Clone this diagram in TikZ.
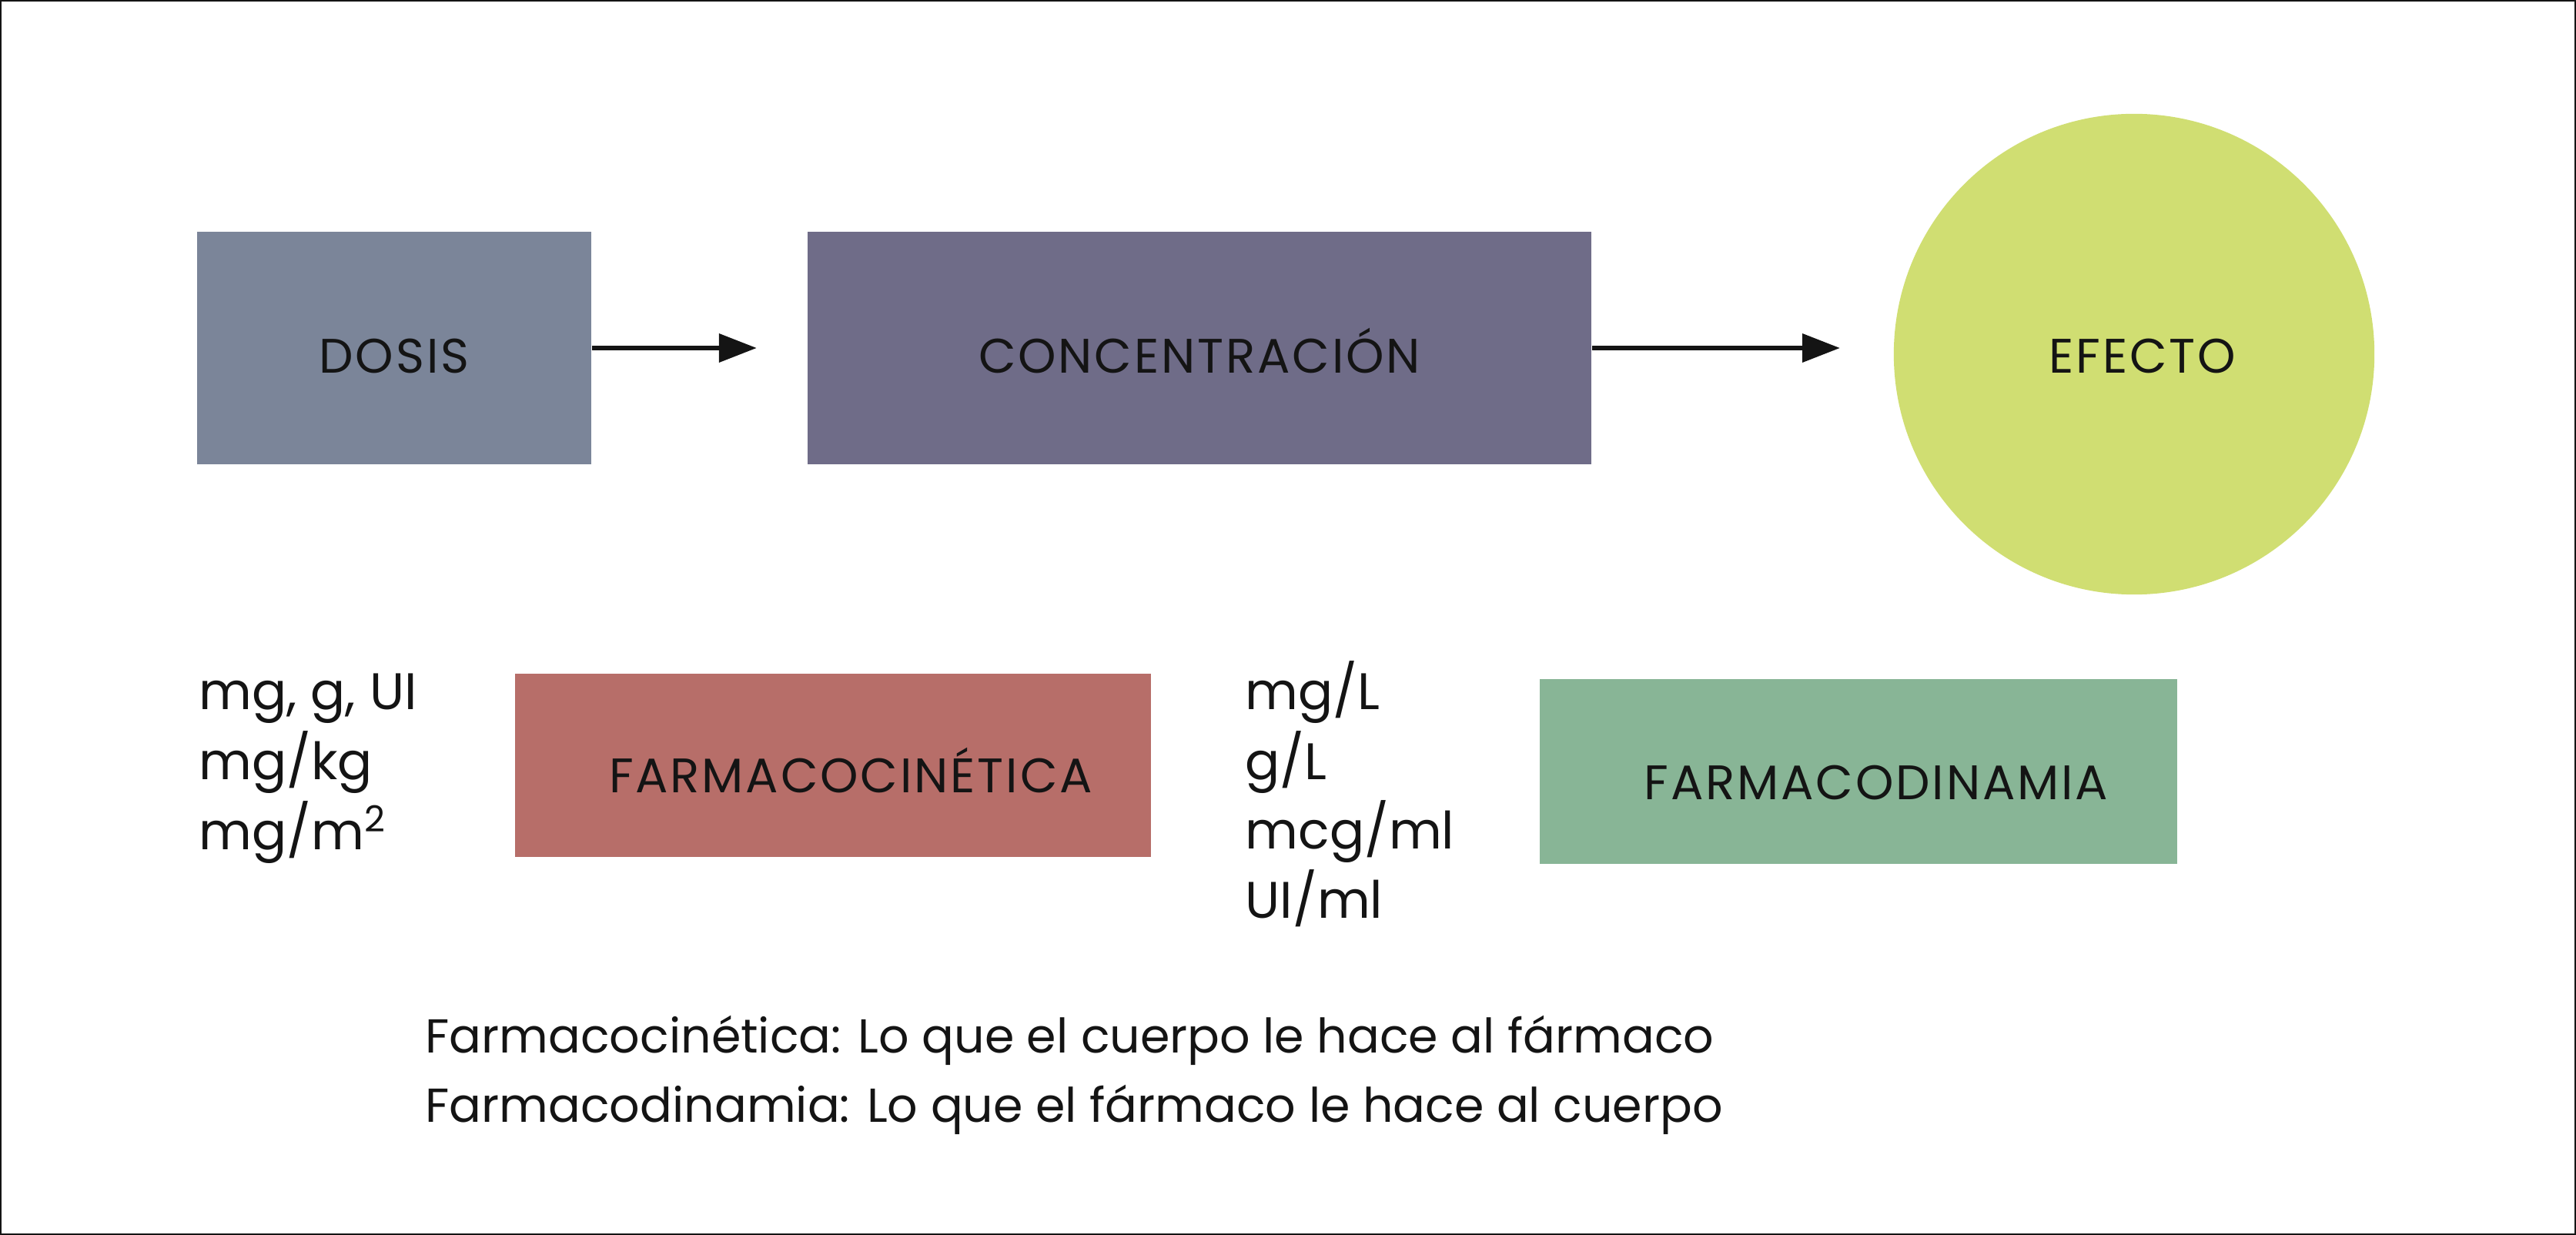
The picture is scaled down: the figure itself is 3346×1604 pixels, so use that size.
\documentclass[tikz,border=0pt]{standalone}
\usepackage{fontspec}
\setmainfont{Poppins}
\usetikzlibrary{arrows.meta}
\definecolor{cdosis}{HTML}{7B8599}
\definecolor{cconc}{HTML}{6F6C88}
\definecolor{cefecto}{HTML}{D0DE72}
\definecolor{ckin}{HTML}{B76E69}
\definecolor{cdin}{HTML}{88B596}
\definecolor{ink}{HTML}{141414}
\begin{document}
\begin{tikzpicture}[x=0.01cm,y=-0.01cm,
  box/.style={rectangle, draw=none, inner sep=0pt, text=ink,
    font=\fontsize{17.9pt}{20pt}\selectfont\addfontfeatures{LetterSpace=4.5},
    text height=0.64cm, text depth=0pt},
  unit/.style={anchor=base west, inner sep=0pt, text=ink,
    font=\fontsize{19pt}{22pt}\selectfont},
  note/.style={anchor=base west, inner sep=0pt, text=ink,
    font=\fontsize{17.6pt}{22pt}\selectfont},
  arr/.style={draw=ink, line width=0.067cm,
    -{Triangle[length=0.49cm,width=0.36cm]}}]
\useasboundingbox (0,0) rectangle (3346,1604);
\draw[line width=0.02cm, draw=ink] (1,1) rectangle (3345,1603);
% top row
\node[box, fill=cdosis, minimum width=5.12cm, minimum height=3.02cm] (dosis) at (512,452) {DOSIS};
\node[box, fill=cconc, minimum width=10.18cm, minimum height=3.02cm] (conc) at (1558,452) {CONCENTRACIÓN};
\node[box, circle, fill=cefecto, minimum size=6.24cm, text height=0.48cm] (efecto) at (2772,460) {\hspace*{0.22cm}EFECTO};
\draw[arr, shorten >=0.65cm] (dosis.east) -- (conc.west);
\draw[arr, shorten >=0.69cm] (conc.east) -- (conc.east -| efecto.west);
% bottom row
\node[box, fill=ckin, minimum width=8.26cm, minimum height=2.38cm, text height=0.70cm] (kin) at (1082,994) {\hspace*{0.46cm}FARMACOCINÉTICA};
\node[box, fill=cdin, minimum width=8.27cm, minimum height=2.39cm, text height=0.72cm] (din) at (2414,1002) {\hspace*{0.46cm}FARMACODINAMIA};
% units
\node[unit] (u1) at (258,922) {mg, g, UI};
\node[unit] (u2) at (258,1012) {mg/kg};
\node[unit] (u3) at (258,1103) {mg/m\textsuperscript{2}};
\node[unit] (v1) at (1617,922) {mg/L};
\node[unit] (v2) at (1617,1012) {g/L};
\node[unit] (v3) at (1617,1102) {mcg/ml};
\node[unit] (v4) at (1617,1192) {UI/ml};
% notes
\node[note] (n1) at (552,1367) {Farmacocinética: Lo que el cuerpo le hace al fármaco};
\node[note] (n2) at (552,1457) {Farmacodinamia: Lo que el fármaco le hace al cuerpo};
\end{tikzpicture}
\end{document}
